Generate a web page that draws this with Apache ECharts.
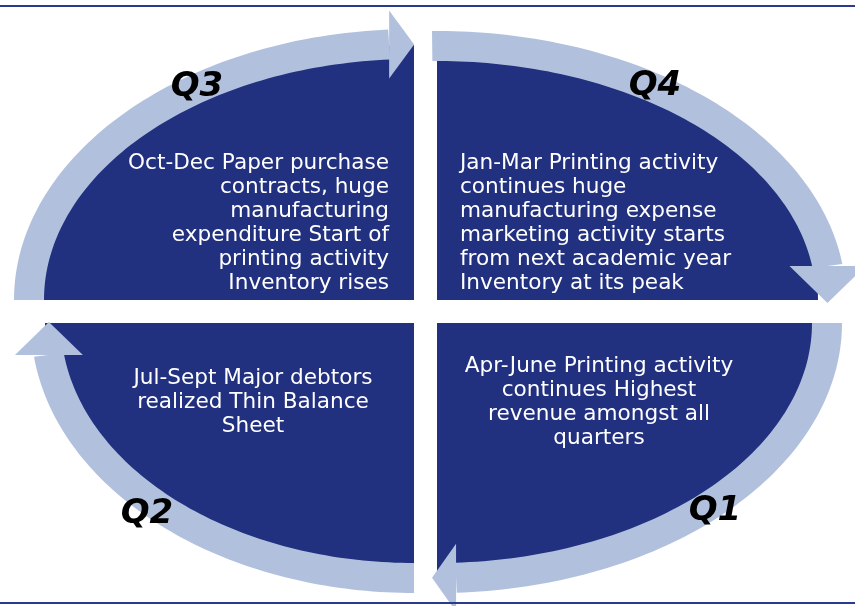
<!DOCTYPE html>
<html>
<head>
<meta charset="utf-8">
<script src="https://cdn.jsdelivr.net/npm/echarts@6/dist/echarts.min.js"></script>
<style>
  html, body { margin: 0; padding: 0; background: #fff; }
  #main { width: 855px; height: 606px; }
</style>
</head>
<body>
<div id="main"></div>
<script>
// quadrants in drawing order: top-left, top-right, bottom-right, bottom-left
const quarters = ['Q3', 'Q4', 'Q1', 'Q2'];
const descriptions = [
  'Oct-Dec Paper purchase\ncontracts, huge\nmanufacturing\nexpenditure Start of\nprinting activity\nInventory rises',
  'Jan-Mar Printing activity\ncontinues huge\nmanufacturing expense\nmarketing activity starts\nfrom next academic year\nInventory at its peak',
  'Apr-June Printing activity\ncontinues Highest\nrevenue amongst all\nquarters',
  'Jul-Sept Major debtors\nrealized Thin Balance\nSheet'
];

// geometry in axis units (the axes are 0..855 and 0..606)
const cornerX = [414, 437, 437, 414];
const cornerY = [300, 300, 323, 323];
const sweepStart = [180, 270, 0, 90];
const fillRadiusX = [380, 381, 376, 369];
const fillRadiusY = [255, 250, 252, 250];
const arrowRadiusX = [385, 394, 390, 368];
const arrowRadiusY = [256, 254, 255, 255];
const arrowFrom = [180, 269.3, 0, 90];
const arrowTo = [266.3, 352.3, 87.2, 172.8];
const headLength = [25, 37, 24, 33];
const headHalf = [34, 38, 34, 34];
const textX = [389, 460, 599, 253];
const textY = [223, 223, 402, 402];
const labelX = [197, 655, 715, 147];
const labelY = [87, 86, 511, 514];
const borderY = [5.5, 603];

const DARK = '#21307f';
const LIGHT = '#b1c1dd';
const BAND = 30;

const chart = echarts.init(document.getElementById('main'));

function arcPoints(api, cx, cy, rx, ry, from, to, n) {
  const pts = [];
  for (let k = 0; k <= n; k++) {
    const t = (from + (to - from) * k / n) * Math.PI / 180;
    pts.push(api.coord([cx + rx * Math.cos(t), cy + ry * Math.sin(t)]));
  }
  return pts;
}

function renderQuadrant(params, api) {
  const i = params.dataIndex;
  const cx = cornerX[i], cy = cornerY[i];
  const pts = [api.coord([cx, cy])].concat(
    arcPoints(api, cx, cy, fillRadiusX[i], fillRadiusY[i], sweepStart[i], sweepStart[i] + 90, 80)
  );
  return { type: 'polygon', shape: { points: pts }, style: { fill: DARK } };
}

function renderArrow(params, api) {
  const i = params.dataIndex;
  const cx = cornerX[i], cy = cornerY[i];
  const rx = arrowRadiusX[i], ry = arrowRadiusY[i];
  const a0 = arrowFrom[i], a1 = arrowTo[i];
  const outer = arcPoints(api, cx, cy, rx + BAND / 2, ry + BAND / 2, a0, a1, 80);
  const inner = arcPoints(api, cx, cy, rx - BAND / 2, ry - BAND / 2, a1, a0, 80);

  // arrow head sits at the end of the arc and points along the quadrant's end tangent
  const t = a1 * Math.PI / 180;
  const px = cx + rx * Math.cos(t), py = cy + ry * Math.sin(t);
  const e = (sweepStart[i] + 90) * Math.PI / 180;
  const tx = Math.round(-Math.sin(e)), ty = Math.round(Math.cos(e));
  const nx = -ty, ny = tx;
  const head = [
    api.coord([px + nx * headHalf[i], py + ny * headHalf[i]]),
    api.coord([px + tx * headLength[i], py + ty * headLength[i]]),
    api.coord([px - nx * headHalf[i], py - ny * headHalf[i]])
  ];
  return {
    type: 'group',
    children: [
      { type: 'polygon', shape: { points: outer.concat(inner) }, style: { fill: LIGHT } },
      { type: 'polygon', shape: { points: head }, style: { fill: LIGHT } }
    ]
  };
}

const textAlign = ['right', 'left', 'center', 'center'];

function renderText(params, api) {
  const i = params.dataIndex;
  const p = api.coord([textX[i], textY[i]]);
  const q = api.coord([labelX[i], labelY[i]]);
  return {
    type: 'group',
    children: [
      {
        type: 'text', x: p[0], y: p[1],
        style: {
          text: descriptions[i], fill: '#ffffff',
          fontFamily: 'DejaVu Sans', fontSize: 21.6, lineHeight: 24,
          align: textAlign[i], verticalAlign: 'middle'
        }
      },
      {
        type: 'text', x: q[0], y: q[1],
        style: {
          text: quarters[i], fill: '#000000',
          fontFamily: 'DejaVu Sans', fontSize: 34, fontWeight: 'bold', fontStyle: 'italic',
          align: 'center', verticalAlign: 'middle'
        }
      }
    ]
  };
}

const idx = quarters.map((q, i) => [cornerX[i], cornerY[i]]);

const option = {
  backgroundColor: '#ffffff',
  animation: false,
  grid: { left: 0, right: 0, top: 0, bottom: 0 },
  xAxis: { type: 'value', min: 0, max: 855, show: false },
  yAxis: { type: 'value', min: 0, max: 606, inverse: true, show: false },
  series: [
    {
      name: 'quadrants',
      type: 'custom',
      renderItem: renderQuadrant,
      data: idx,
      z: 1,
      markLine: {
        silent: true,
        symbol: 'none',
        label: { show: false },
        lineStyle: { color: '#2c3a8e', width: 2, type: 'solid' },
        data: borderY.map(y => ({ yAxis: y }))
      }
    },
    {
      name: 'arrows',
      type: 'custom',
      renderItem: renderArrow,
      data: idx,
      z: 2
    },
    {
      name: 'texts',
      type: 'custom',
      renderItem: renderText,
      data: idx,
      z: 3
    }
  ]
};

chart.setOption(option);
</script>
</body>
</html>
